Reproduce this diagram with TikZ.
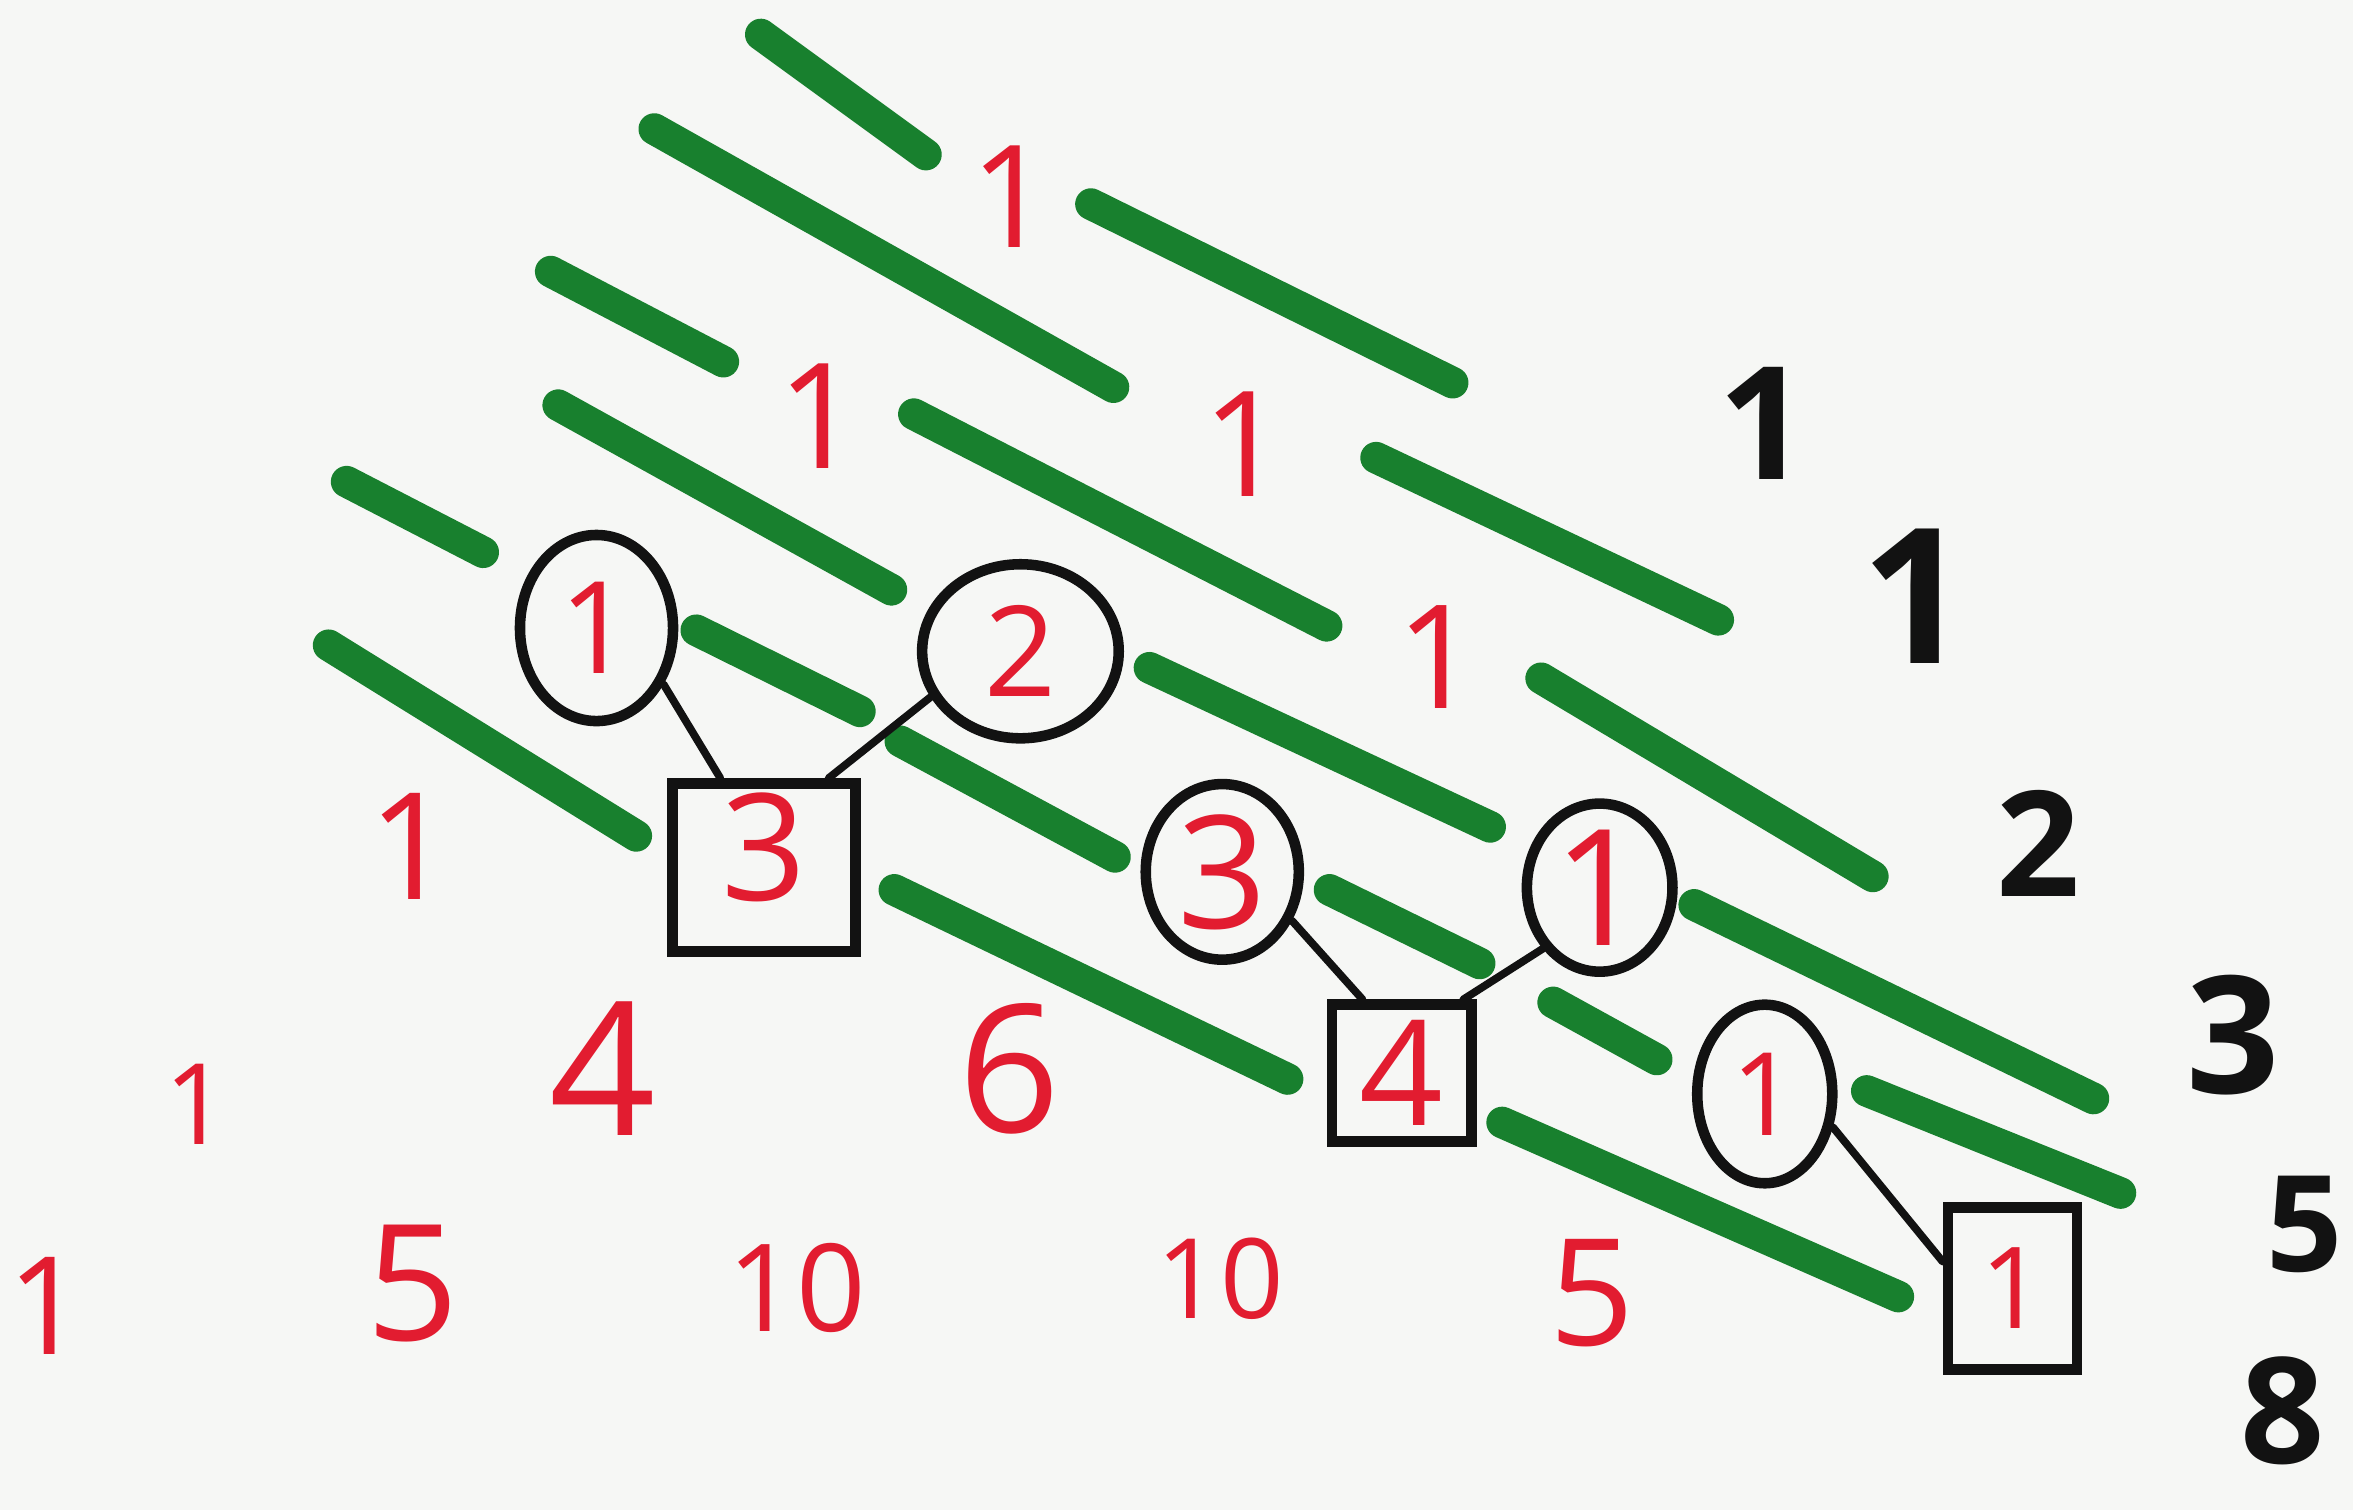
\documentclass[tikz,border=0pt]{standalone}
\usepackage{fontspec}
\setmainfont{Open Sans}
\usetikzlibrary{shapes.geometric}
\definecolor{paper}{RGB}{246,247,245}
\definecolor{marker}{RGB}{24,128,46}
\definecolor{pen}{RGB}{226,28,48}
\definecolor{ink}{RGB}{18,18,18}
\newcommand\fsz[1]{\fontsize{#1pt}{#1pt}\selectfont}
\begin{document}
\begin{tikzpicture}[x=0.15mm,y=-0.15mm,
  diag/.style={line width=9pt, line cap=round, draw=marker},
  num/.style={text=pen, inner sep=0pt, font=\fsz{#1}},
  fib/.style={text=ink, inner sep=0pt, font=\bfseries\fsz{#1}},
  ring/.style={ellipse, draw=ink, line width=3pt, inner sep=0pt, text=pen},
  boxed/.style={rectangle, draw=ink, line width=3pt, inner sep=0pt, text=pen},
  link/.style={draw=ink, line width=2.2pt, line cap=round}]
\fill[paper] (0,0) rectangle (1568,1006);
\useasboundingbox (0,0) rectangle (1568,1006);

% green diagonals
\draw[diag] (507,23) -- (617,103);
\draw[diag] (436,86) -- (742,258);
\draw[diag] (727,136) -- (968,255);
\draw[diag] (367,181) -- (482,241);
\draw[diag] (609,276) -- (884,417);
\draw[diag] (372,270) -- (594,393);
\draw[diag] (917,305) -- (1145,413);
\draw[diag] (231,321) -- (322,368);
\draw[diag] (464,420) -- (573,474);
\draw[diag] (766,445) -- (993,551);
\draw[diag] (219,430) -- (424,557);
\draw[diag] (600,494) -- (743,571);
\draw[diag] (1027,452) -- (1248,584);
\draw[diag] (886,593) -- (986,642);
\draw[diag] (596,593) -- (858,719);
\draw[diag] (1129,603) -- (1395,732);
\draw[diag] (1035,668) -- (1104,706);
\draw[diag] (1001,748) -- (1265,864);
\draw[diag] (1244,727) -- (1413,795);

% Pascal triangle entries
\node[num=40.5] (r0) at (674,131) {1};
\node[num=41.7] (r1a) at (546,277) {1};
\node[num=41.7] (r1b) at (829,296) {1};
\node[ring, font=\fsz{36.4}, minimum width=15.3mm, minimum height=18.6mm] (c1) at (397.5,418.5) {1};
\node[ring, font=\fsz{35.8}, minimum width=19.65mm, minimum height=17.4mm] (c2) at (680,434) {2};
\node[num=41] (r2c) at (958,438) {1};
\node[num=42.3] (r3a) at (274,564) {1};
\node[boxed, font=\fsz{42.3}, text depth=4.2mm, minimum width=18.3mm, minimum height=16.8mm] (s3) at (509,578) {3};
\node[ring, font=\fsz{44.7}, minimum width=15.3mm, minimum height=17.55mm] (c3) at (814.5,581) {3};
\node[ring, font=\fsz{46}, minimum width=14.55mm, minimum height=16.8mm] (c4) at (1066,591.5) {1};
\node[num=32] (r4a) at (131,736) {1};
\node[num=53] (r4b) at (402,712) {4};
\node[num=50.7] (r4c) at (673,712) {6};
\node[boxed, font=\fsz{41.7}, minimum width=13.95mm, minimum height=13.65mm] (s4) at (934,715) {4};
\node[ring, font=\fsz{32.8}, minimum width=13.5mm, minimum height=17.85mm] (c5) at (1176,729) {1};
\node[num=38.7] (r5a) at (31,870) {1};
\node[num=46] (r5b) at (275,855) {5};
\node[num=34.6] (r5c) at (531,858) {10};
\node[num=31.6] (r5d) at (813,852) {10};
\node[num=42.3] (r5e) at (1061,862) {5};
\node[boxed, font=\fsz{32.2}, minimum width=12.9mm, minimum height=16.2mm] (s5) at (1341,858.5) {1};

% Fibonacci sums
\node[fib=44.7] (f1) at (1175,282) {1};
\node[fib=53.6] (f2) at (1276,397) {1};
\node[fib=41.7] (f3) at (1358,562) {2};
\node[fib=46.5] (f4) at (1488,690) {3};
\node[fib=38] (f5) at (1536,816) {5};
\node[fib=42] (f6) at (1521,940) {8};

% connectors
\draw[link] (c1.-40) -- (s3.116);
\draw[link] (c2.-153) -- (s3.54);
\draw[link] (c3.-35) -- (s4.118);
\draw[link] (c4.-133) -- (s4.50);
\draw[link] (c5.-26) -- (s5.159);
\end{tikzpicture}
\end{document}
